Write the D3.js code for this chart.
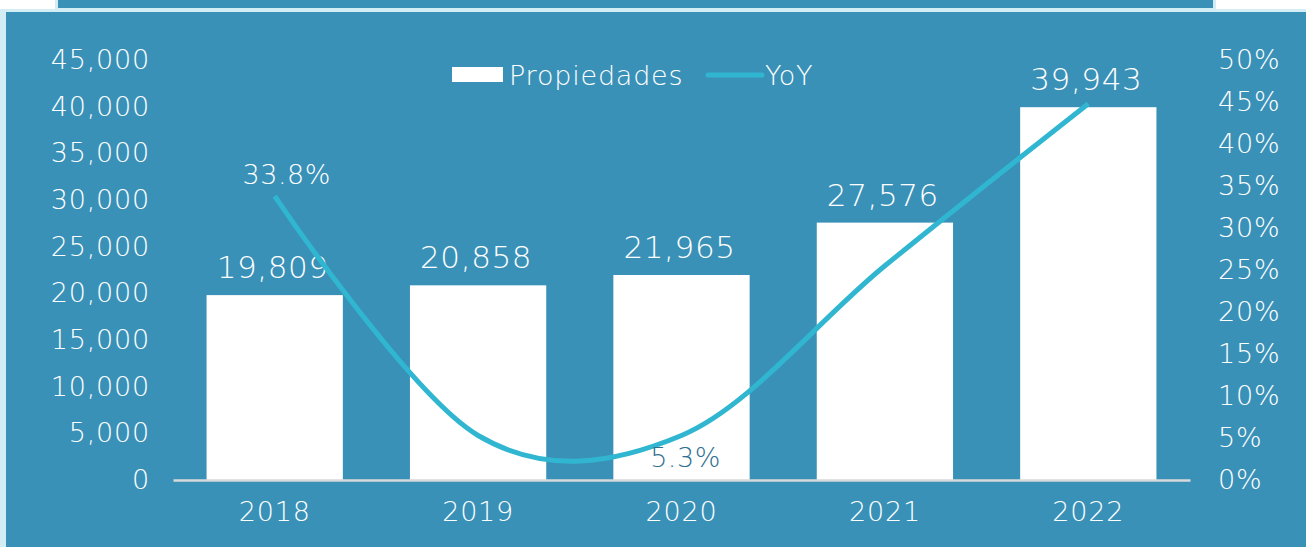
<!DOCTYPE html>
<html>
<head>
<meta charset="utf-8">
<script src="https://cdn.jsdelivr.net/npm/d3@7"></script>
<style>
  html, body { margin: 0; padding: 0; background: #fff; }
  svg text { font-family: "DejaVu Sans", sans-serif; font-weight: 200; }
</style>
</head>
<body>
<div id="chart"></div>
<script>
// Propiedades por año + crecimiento YoY
const years       = ["2018", "2019", "2020", "2021", "2022"];
const propiedades = [19809, 20858, 21965, 27576, 39943];
const yoy         = [33.8, 5.3, 5.3, 25.5, 44.8];
const yoyLabels   = ["33.8%", null, "5.3%", null, null];
const leftTicks   = [0, 5000, 10000, 15000, 20000, 25000, 30000, 35000, 40000, 45000];
const rightTicks  = [0, 5, 10, 15, 20, 25, 30, 35, 40, 45, 50];

const width = 1306, height = 547;
const blue = "#3a91b8", pale = "#d3edf5", lineCol = "#30b6d0";

const svg = d3.select("#chart").append("svg")
    .attr("width", width).attr("height", height)
    .attr("viewBox", `0 0 ${width} ${height}`);

// frame: panel edge at the top, light border, blue body
svg.append("rect").attr("x", 0).attr("y", 0).attr("width", width).attr("height", height).attr("fill", "#fff");
svg.append("rect").attr("x", 55).attr("y", 0).attr("width", 1161).attr("height", 10).attr("fill", pale);
svg.append("rect").attr("x", 58).attr("y", 0).attr("width", 1155).attr("height", 8).attr("fill", blue);
svg.append("rect").attr("x", 0).attr("y", 9).attr("width", width).attr("height", height - 9).attr("fill", pale);
svg.append("rect").attr("x", 6).attr("y", 12).attr("width", width - 6).attr("height", height - 12).attr("fill", blue);

const x = d3.scaleBand().domain(years).range([173, 1190]).paddingInner(0.33).paddingOuter(0.165);
const y = d3.scaleLinear().domain([0, 45000]).range([480, 60]);
const y2 = d3.scaleLinear().domain([0, 50]).range([480, 60]);
const cx = i => x(years[i]) + x.bandwidth() / 2;

const tickFont = "27px", tickLs = "0.8px";

// left axis
const gl = svg.append("g").attr("transform", "translate(158,0)")
    .call(d3.axisLeft(y).tickValues(leftTicks).tickSize(0).tickPadding(8).tickFormat(d3.format(",")));
gl.select(".domain").remove();
gl.selectAll("text").attr("fill", "#fff").style("font-size", tickFont).style("letter-spacing", tickLs);

// right axis
const gr = svg.append("g").attr("transform", "translate(1210,0)")
    .call(d3.axisRight(y2).tickValues(rightTicks).tickSize(0).tickPadding(8).tickFormat(d => d + "%"));
gr.select(".domain").remove();
gr.selectAll("text").attr("fill", "#fff").style("font-size", tickFont).style("letter-spacing", tickLs);

// bars
svg.selectAll("rect.bar").data(years).join("rect").attr("class", "bar")
    .attr("x", d => x(d))
    .attr("y", (d, i) => y(propiedades[i]))
    .attr("width", x.bandwidth())
    .attr("height", (d, i) => y(0) - y(propiedades[i]))
    .attr("fill", "#fff");

// bottom axis
const gb = svg.append("g").attr("transform", `translate(0,${y(0)})`)
    .call(d3.axisBottom(x).tickSize(0).tickPadding(22));
gb.select(".domain").attr("stroke", "#d9d9d9").attr("stroke-width", 2.5);
gb.selectAll("text").attr("fill", "#fff").style("font-size", tickFont).style("letter-spacing", tickLs);

// bar value labels
svg.selectAll("text.val").data(years).join("text").attr("class", "val")
    .attr("x", (d, i) => cx(i) - 2)
    .attr("y", (d, i) => y(propiedades[i]) - 17)
    .attr("text-anchor", "middle")
    .attr("fill", "#fff")
    .style("font-size", "31px").style("letter-spacing", "0.6px")
    .text((d, i) => d3.format(",")(propiedades[i]));

// YoY line
const line = d3.line()
    .x((d, i) => cx(i))
    .y(d => y2(d))
    .curve(d3.curveCardinal.tension(0));
svg.append("path").datum(yoy)
    .attr("d", line)
    .attr("fill", "none").attr("stroke", lineCol).attr("stroke-width", 5);

// YoY labels (only 2018 and 2020 carry one)
const yoyLab = yoy.map((v, i) => ({ v, i, t: yoyLabels[i] })).filter(d => d.t !== null);
svg.selectAll("text.yoy").data(yoyLab).join("text").attr("class", "yoy")
    .attr("x", d => cx(d.i) + (d.i === 0 ? 12 : 4))
    .attr("y", d => d.i === 0 ? y2(d.v) - 12 : y2(d.v) + 32)
    .attr("text-anchor", "middle")
    .attr("fill", d => d.i === 0 ? "#fff" : "#2e6f90")
    .style("font-size", "27px").style("letter-spacing", "0.5px")
    .text(d => d.t);

// legend
const lg = svg.append("g");
lg.append("rect").attr("x", 452).attr("y", 67).attr("width", 51).attr("height", 15).attr("fill", "#fff");
lg.append("text").attr("x", 509).attr("y", 85).attr("fill", "#fff")
    .style("font-size", tickFont).style("letter-spacing", tickLs).text("Propiedades");
lg.append("line").attr("x1", 708).attr("x2", 762).attr("y1", 75).attr("y2", 75)
    .attr("stroke", lineCol).attr("stroke-width", 5).attr("stroke-linecap", "round");
lg.append("text").attr("x", 765).attr("y", 85).attr("fill", "#fff")
    .style("font-size", tickFont).style("letter-spacing", tickLs).text("YoY");
</script>
</body>
</html>
